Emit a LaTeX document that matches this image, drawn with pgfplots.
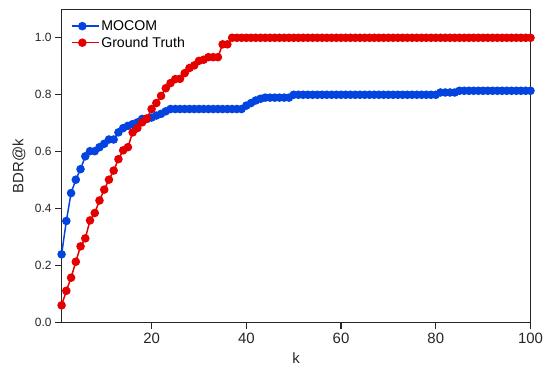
\documentclass[border=0pt]{standalone}
\usepackage{pgfplots}
\pgfplotsset{compat=1.18}
\usepackage{fontspec}
\setmainfont{Liberation Sans}
\definecolor{mblue}{RGB}{3,67,223}
\definecolor{mred}{RGB}{229,0,0}
\definecolor{spine}{RGB}{38,38,38}
\begin{document}
\begin{tikzpicture}
\path[use as bounding box] (-61.6bp,-43.3bp) rectangle (481.4bp,322.7bp);
\begin{axis}[
  scale only axis, width=468.9bp, height=313.4bp,
  xmin=1, xmax=100, ymin=0, ymax=1.1,
  xtick={20,40,60,80,100},
  ytick={0,0.2,0.4,0.6,0.8,1.0},
  /pgf/number format/assume math mode=true,
  yticklabel style={/pgf/number format/fixed, /pgf/number format/fixed zerofill, /pgf/number format/precision=1,
     font=\fontsize{12}{14}\selectfont, text=spine},
  xticklabel style={font=\fontsize{15}{18}\selectfont, text=spine},
  tick align=outside, tick pos=left,
  major tick length=6.5bp,
  axis line style={spine, line width=1.1bp},
  every tick/.style={spine, line width=1.1bp},
  xlabel={k}, ylabel={BDR@k},
  label style={font=\fontsize{15}{18}\selectfont, text=spine},
  xlabel style={at={([yshift=-40.5bp]axis description cs:0.5,0)}, anchor=base},
  ylabel style={at={([xshift=-42.6bp]axis description cs:0,0.5)}, anchor=center},
  legend style={at={([xshift=6bp,yshift=-7bp]axis description cs:0,1)}, anchor=north west,
     draw=none, fill=none, font=\fontsize{14.2}{16}\selectfont, row sep=1bp},
  legend cell align=left,
  legend image code/.code={\path (0bp,0bp) -- (27bp,0bp); \draw[mark repeat=2,mark phase=2,#1] plot coordinates {(0bp,0bp) (10.8bp,0bp) (21.6bp,0bp)};},
]
\addplot[mblue, line width=1.5bp, mark=*, mark size=3.5bp] table {
1 0.240
2 0.357
3 0.455
4 0.502
5 0.539
6 0.584
7 0.602
8 0.602
9 0.616
10 0.628
11 0.643
12 0.643
13 0.668
14 0.683
15 0.691
16 0.697
17 0.703
18 0.715
19 0.715
20 0.720
21 0.727
22 0.733
23 0.742
24 0.750
25 0.750
26 0.750
27 0.750
28 0.750
29 0.750
30 0.750
31 0.750
32 0.750
33 0.750
34 0.750
35 0.750
36 0.750
37 0.750
38 0.750
39 0.750
40 0.762
41 0.771
42 0.780
43 0.786
44 0.790
45 0.790
46 0.790
47 0.790
48 0.790
49 0.790
50 0.800
51 0.800
52 0.800
53 0.800
54 0.800
55 0.800
56 0.800
57 0.800
58 0.800
59 0.800
60 0.800
61 0.800
62 0.800
63 0.800
64 0.800
65 0.800
66 0.800
67 0.800
68 0.800
69 0.800
70 0.800
71 0.800
72 0.800
73 0.800
74 0.800
75 0.800
76 0.800
77 0.800
78 0.800
79 0.800
80 0.800
81 0.808
82 0.808
83 0.808
84 0.808
85 0.814
86 0.814
87 0.814
88 0.814
89 0.814
90 0.814
91 0.814
92 0.814
93 0.814
94 0.814
95 0.814
96 0.814
97 0.814
98 0.814
99 0.814
100 0.814
};
\addlegendentry{MOCOM}
\addplot[mred, line width=1.5bp, mark=*, mark size=3.5bp] table {
1 0.061
2 0.112
3 0.158
4 0.214
5 0.268
6 0.296
7 0.359
8 0.385
9 0.429
10 0.467
11 0.502
12 0.534
13 0.574
14 0.605
15 0.616
16 0.668
17 0.683
18 0.703
19 0.717
20 0.750
21 0.771
22 0.796
23 0.823
24 0.841
25 0.855
26 0.856
27 0.876
28 0.894
29 0.903
30 0.919
31 0.923
32 0.932
33 0.932
34 0.932
35 0.977
36 0.977
37 1.000
38 1.000
39 1.000
40 1.000
41 1.000
42 1.000
43 1.000
44 1.000
45 1.000
46 1.000
47 1.000
48 1.000
49 1.000
50 1.000
51 1.000
52 1.000
53 1.000
54 1.000
55 1.000
56 1.000
57 1.000
58 1.000
59 1.000
60 1.000
61 1.000
62 1.000
63 1.000
64 1.000
65 1.000
66 1.000
67 1.000
68 1.000
69 1.000
70 1.000
71 1.000
72 1.000
73 1.000
74 1.000
75 1.000
76 1.000
77 1.000
78 1.000
79 1.000
80 1.000
81 1.000
82 1.000
83 1.000
84 1.000
85 1.000
86 1.000
87 1.000
88 1.000
89 1.000
90 1.000
91 1.000
92 1.000
93 1.000
94 1.000
95 1.000
96 1.000
97 1.000
98 1.000
99 1.000
100 1.000
};
\addlegendentry{Ground Truth}
\end{axis}
\end{tikzpicture}
\end{document}
